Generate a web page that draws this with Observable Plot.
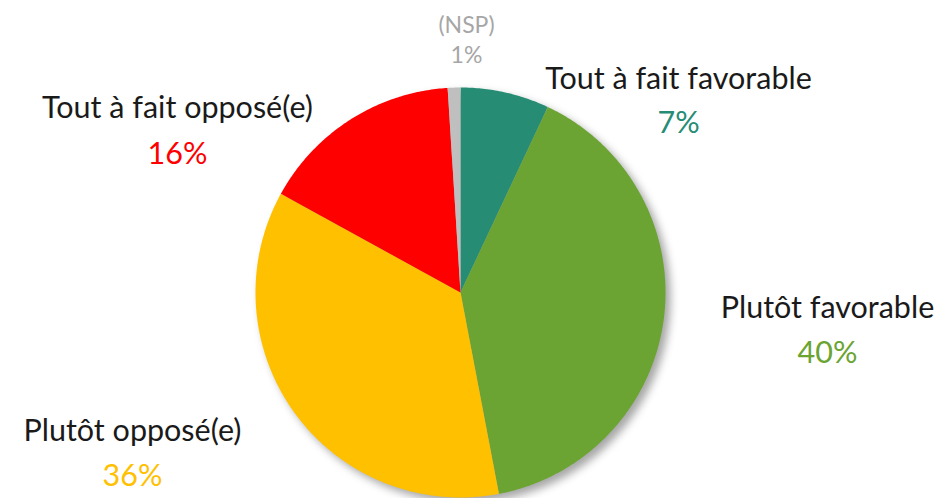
<!DOCTYPE html>
<html>
<head>
<meta charset="utf-8">
<script src="https://cdn.jsdelivr.net/npm/d3@7"></script>
<script src="https://cdn.jsdelivr.net/npm/@observablehq/plot@0.6"></script>
<style>
  html, body { margin: 0; padding: 0; background: #fff; }
  #chart svg { display: block; }
  #chart g[aria-label="line"] { filter: drop-shadow(5px 5px 4px rgba(0,0,0,0.35)); }
</style>
</head>
<body>
<div id="chart"></div>
<script>
// ---- data ----
const categories = ["Tout à fait favorable", "Plutôt favorable", "Plutôt opposé(e)", "Tout à fait opposé(e)", "(NSP)"];
const values = [7, 40, 36, 16, 1];
const valueLabels = ["7%", "40%", "36%", "16%", "1%"];
const colors = ["#268C74", "#6BA432", "#FFC000", "#FF0000", "#BFBFBF"];
const labelColors = ["#1a1a1a", "#1a1a1a", "#1a1a1a", "#1a1a1a", "#A6A6A6"];
const pctColors = ["#268C74", "#6BA432", "#FFC000", "#FF0000", "#A6A6A6"];

// ---- layout (pixels) ----
const W = 942, H = 498;
const cx = 460, cy = 292, R = 205;
// label anchors: [x centre, baseline of name line]
const labelAnchors = [[678, 88], [827, 317], [132, 440], [177, 117], [466, 32]];
const labelSizes = [30.5, 30.5, 30.5, 30.5, 23];
const lineGap = [44, 45, 45, 46, 30];

// ---- build slices ----
const pie = d3.pie().sort(null).value(d => d)(values);
const points = [];
pie.forEach((p, i) => {
  const a0 = p.startAngle, a1 = p.endAngle;
  const n = Math.max(2, Math.ceil((a1 - a0) / 0.01));
  points.push({cat: categories[i], x: cx, y: cy});
  for (let k = 0; k <= n; k++) {
    const a = a0 + (a1 - a0) * k / n;
    points.push({cat: categories[i], x: cx + R * Math.sin(a), y: cy - R * Math.cos(a)});
  }
  points.push({cat: categories[i], x: cx, y: cy});
});

const labels = categories.map((c, i) => ({
  name: c, pct: valueLabels[i],
  x: labelAnchors[i][0], y: labelAnchors[i][1], y2: labelAnchors[i][1] + lineGap[i],
  size: labelSizes[i], lc: labelColors[i], pc: pctColors[i]
}));

const font = "Lato, 'Open Sans', sans-serif";
const textMarks = labels.flatMap(l => [
  Plot.text([l], {x: "x", y: "y", text: "name", fill: l.lc, fontSize: l.size, lineAnchor: "bottom", textAnchor: "middle", fontFamily: font, fontWeight: 400}),
  Plot.text([l], {x: "x", y: "y2", text: "pct", fill: l.pc, fontSize: l.size, lineAnchor: "bottom", textAnchor: "middle", fontFamily: font, fontWeight: 400})
]);

const chart = Plot.plot({
  width: W, height: H,
  margin: 0,
  x: {domain: [0, W], range: [0, W], axis: null},
  y: {domain: [0, H], range: [0, H], axis: null},
  color: {domain: categories, range: colors},
  style: {background: "#fff"},
  marks: [
    Plot.line(points, {x: "x", y: "y", z: "cat", fill: "cat", stroke: "none", curve: "linear"}),
    ...textMarks
  ]
});
document.getElementById("chart").appendChild(chart);
</script>
</body>
</html>
